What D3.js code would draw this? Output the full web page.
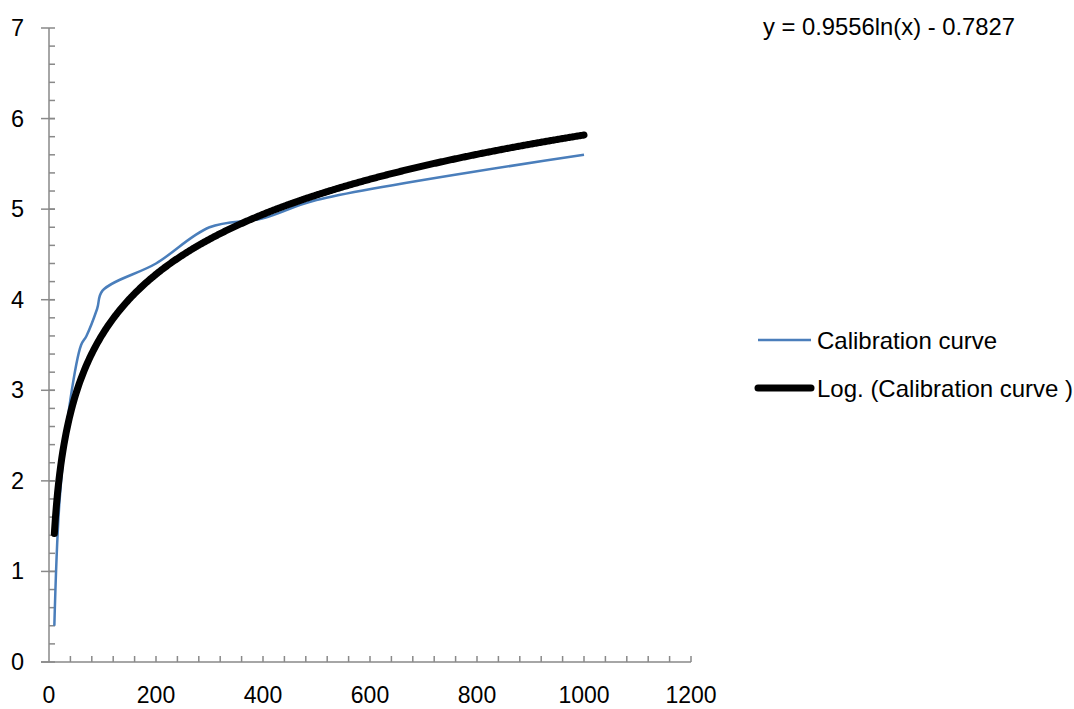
<!DOCTYPE html>
<html>
<head>
<meta charset="utf-8">
<script src="https://cdn.jsdelivr.net/npm/d3@7"></script>
<style>
  body { margin: 0; background: #fff; }
  text { font-family: 'Liberation Sans', Arial, sans-serif; fill: #000; }
</style>
</head>
<body>
<div id="chart"></div>
<script>
// measured points of the calibration curve
const calX = [10, 20, 40, 60, 70, 90, 100, 200, 300, 400, 500, 1000]
const calY = [0.4, 1.8, 2.9, 3.5, 3.6, 3.9, 4.1, 4.4, 4.8, 4.9, 5.1, 5.6]

// logarithmic trendline as printed on the chart: y = a ln(x) + b
const trendA = 0.9556
const trendB = -0.7827
const trendRange = [10, 1000]

const xTicks = [0, 200, 400, 600, 800, 1000, 1200]
const yTicks = [0, 1, 2, 3, 4, 5, 6, 7]
const seriesNames = ['Calibration curve', 'Log. (Calibration curve )']

const width = 1074
const height = 709
const margin = { left: 49, top: 28, right: 383, bottom: 47 }

const svg = d3.select('#chart').append('svg')
  .attr('width', width)
  .attr('height', height)

const x = d3.scaleLinear().domain([0, 1200]).range([margin.left, width - margin.right])
const y = d3.scaleLinear().domain([0, 7]).range([height - margin.bottom, margin.top])

const axisColor = '#898989'

// x axis: small ticks every 40 pointing up
const xg = svg.append('g')
xg.append('line')
  .attr('x1', x(0) - 8).attr('x2', x(1200))
  .attr('y1', y(0)).attr('y2', y(0))
  .attr('stroke', axisColor).attr('stroke-width', 1.5)
xg.selectAll('line.tick').data(d3.range(40, 1201, 40)).enter()
  .append('line')
  .attr('x1', d => x(d)).attr('x2', d => x(d))
  .attr('y1', y(0)).attr('y2', y(0) - 6)
  .attr('stroke', axisColor).attr('stroke-width', 1.5)
xg.selectAll('text').data(xTicks).enter()
  .append('text')
  .attr('x', d => x(d))
  .attr('y', y(0) + 41)
  .attr('text-anchor', 'middle')
  .style('font-size', '23px')
  .text(d => d)

// y axis: major ticks cross, minor every 0.2 inside
const yg = svg.append('g')
yg.append('line')
  .attr('x1', x(0)).attr('x2', x(0))
  .attr('y1', y(0)).attr('y2', y(7))
  .attr('stroke', axisColor).attr('stroke-width', 1.5)
yg.selectAll('line.minor').data(d3.range(1, 35).map(i => i * 0.2)).enter()
  .append('line')
  .attr('x1', x(0)).attr('x2', x(0) + 6)
  .attr('y1', d => y(d)).attr('y2', d => y(d))
  .attr('stroke', axisColor).attr('stroke-width', 1.5)
yg.selectAll('line.major').data(yTicks).enter()
  .append('line')
  .attr('x1', x(0) - 8).attr('x2', x(0) + 6)
  .attr('y1', d => y(d)).attr('y2', d => y(d))
  .attr('stroke', axisColor).attr('stroke-width', 1.5)
yg.selectAll('text').data(yTicks).enter()
  .append('text')
  .attr('x', 24)
  .attr('y', d => y(d) + 8)
  .attr('text-anchor', 'end')
  .style('font-size', '23.5px')
  .text(d => d)

// calibration curve (smoothed like the spreadsheet line)
const calData = calX.map((v, i) => [v, calY[i]])
const line = d3.line()
  .x(d => x(d[0]))
  .y(d => y(d[1]))

svg.append('path')
  .datum(calData)
  .attr('d', line.curve(d3.curveCatmullRom.alpha(0.5)))
  .attr('fill', 'none')
  .attr('stroke', '#4a7ebb')
  .attr('stroke-width', 2.5)

// trendline
const trendData = d3.range(trendRange[0], trendRange[1] + 1, 2)
  .map(v => [v, trendA * Math.log(v) + trendB])
svg.append('path')
  .datum(trendData)
  .attr('d', d3.line().x(d => x(d[0])).y(d => y(d[1])))
  .attr('fill', 'none')
  .attr('stroke', '#000')
  .attr('stroke-width', 7)
  .attr('stroke-linecap', 'round')

// equation
svg.append('text')
  .attr('x', 763)
  .attr('y', 35)
  .style('font-size', '23.8px')
  .text('y = ' + trendA + 'ln(x) - ' + Math.abs(trendB))

// legend
const legend = svg.append('g').attr('transform', 'translate(758,340)')
const items = legend.selectAll('g').data(seriesNames).enter()
  .append('g')
  .attr('transform', (d, i) => `translate(0,${i * 48})`)
items.append('line')
  .attr('x1', 0).attr('x2', 53)
  .attr('stroke', (d, i) => i === 0 ? '#4a7ebb' : '#000')
  .attr('stroke-width', (d, i) => i === 0 ? 2.5 : 7)
  .attr('stroke-linecap', (d, i) => i === 0 ? 'butt' : 'round')
items.append('text')
  .attr('x', 59)
  .attr('y', 8.5)
  .style('font-size', '24px')
  .text(d => d)
</script>
</body>
</html>
